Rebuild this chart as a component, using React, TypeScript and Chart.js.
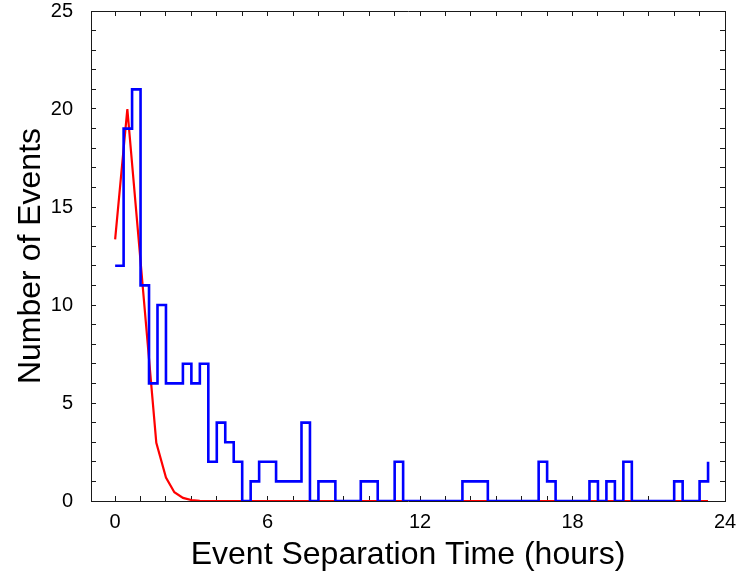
import React, { useEffect, useRef } from 'react';
import { Chart, registerables } from 'chart.js';

Chart.register(...registerables);

// Histogram of event separation times: 20-minute bins starting at 0 h
const BIN_WIDTH_HOURS = 1 / 3;
const EVENT_COUNTS = [
  12, 19, 21, 11, 6, 10, 6, 6, 7, 6, 7, 2, 4, 3, 2,
  0, 1, 2, 2, 1, 1, 1, 4,
  0, 1, 1, 0, 0, 0, 1, 1, 0, 0, 2,
  0, 0, 0, 0, 0, 0, 0,
  1, 1, 1,
  0, 0, 0, 0, 0, 0,
  2, 1,
  0, 0, 0, 0,
  1, 0, 1, 0, 2,
  0, 0, 0, 0, 0,
  1, 0, 0, 1, 2,
];

// Fitted curve (red)
const FIT_X = [0, 0.48, 1.62, 2.0, 2.33, 2.67, 3.0, 3.33, 3.67, 23.33];
const FIT_Y = [13.35, 20.0, 2.97, 1.2, 0.45, 0.16, 0.05, 0.01, 0, 0];

// Axes
const X_MIN = -0.95;
const X_MAX = 24;
const X_TICKS = [0, 1, 2, 3, 4, 5, 6, 7, 8, 9, 10, 11, 12, 13, 14, 15, 16, 17, 18, 19, 20, 21, 22, 23, 24];
const X_LABELED = [0, 6, 12, 18, 24];
const Y_MIN = 0;
const Y_MAX = 25;
const Y_TICKS = [0, 1, 2, 3, 4, 5, 6, 7, 8, 9, 10, 11, 12, 13, 14, 15, 16, 17, 18, 19, 20, 21, 22, 23, 24, 25];
const Y_LABELED = [0, 5, 10, 15, 20, 25];

const X_TITLE = 'Event Separation Time (hours)';
const Y_TITLE = 'Number of Events';

function clearPadding(s: any) {
  s.paddingTop = 0;
  s.paddingBottom = 0;
  s.paddingLeft = 0;
  s.paddingRight = 0;
}

export default function App() {
  const ref = useRef<HTMLCanvasElement | null>(null);

  useEffect(() => {
    const canvas = ref.current;
    if (!canvas) return;
    const family = "'Liberation Sans', Arial, Helvetica, sans-serif";
    const frame = '#1a1a1a';
    const grid = {
      drawOnChartArea: false,
      color: frame,
      lineWidth: 1,
      tickLength: -5,
      drawTicks: true,
    };
    const border = { display: true, color: frame, width: 1 };

    const chart = new Chart(canvas, {
      type: 'line',
      data: {
        datasets: [
          {
            label: 'Observed',
            data: EVENT_COUNTS.map((c, i) => ({ x: i * BIN_WIDTH_HOURS, y: c })),
            borderColor: '#0000ff',
            backgroundColor: '#0000ff',
            borderWidth: 2.6,
            stepped: 'before',
            pointRadius: 0,
            fill: false,
            xAxisID: 'x',
            yAxisID: 'y',
          },
          {
            label: 'Fit',
            data: FIT_X.map((x, i) => ({ x, y: FIT_Y[i] })),
            borderColor: '#ff0000',
            backgroundColor: '#ff0000',
            borderWidth: 2.2,
            tension: 0,
            pointRadius: 0,
            fill: false,
            xAxisID: 'x',
            yAxisID: 'y',
          },
        ],
      },
      options: {
        responsive: false,
        animation: false,
        devicePixelRatio: 1,
        layout: { padding: { left: 0, right: 11, top: 11, bottom: 0 } },
        plugins: {
          legend: { display: false },
          tooltip: { enabled: false },
        },
        scales: {
          x: {
            type: 'linear',
            position: 'bottom',
            min: X_MIN,
            max: X_MAX,
            afterBuildTicks: (s: any) => {
              s.ticks = X_TICKS.map((v) => ({ value: v }));
            },
            afterFit: (s: any) => {
              s.height = 75;
              clearPadding(s);
            },
            grid,
            border,
            ticks: {
              color: '#000',
              font: { family, size: 20 },
              padding: 14,
              autoSkip: false,
              maxRotation: 0,
              minRotation: 0,
              callback: (v: any) => (X_LABELED.includes(Number(v)) ? String(v) : ''),
            },
            title: {
              display: true,
              text: X_TITLE,
              color: '#000',
              font: { family, size: 32 },
              padding: { top: 0, bottom: 2 },
            },
          },
          x2: {
            type: 'linear',
            position: 'top',
            min: X_MIN,
            max: X_MAX,
            afterBuildTicks: (s: any) => {
              s.ticks = X_TICKS.map((v) => ({ value: v }));
            },
            afterFit: (s: any) => {
              s.height = 0;
              clearPadding(s);
            },
            grid,
            border,
            ticks: { display: false },
          },
          y: {
            type: 'linear',
            position: 'left',
            min: Y_MIN,
            max: Y_MAX,
            afterBuildTicks: (s: any) => {
              s.ticks = Y_TICKS.map((v) => ({ value: v }));
            },
            afterFit: (s: any) => {
              s.width = 91;
              clearPadding(s);
            },
            grid,
            border,
            ticks: {
              color: '#000',
              font: { family, size: 20 },
              padding: 23,
              autoSkip: false,
              callback: (v: any) => (Y_LABELED.includes(Number(v)) ? String(v) : ''),
            },
            title: {
              display: true,
              text: Y_TITLE,
              color: '#000',
              font: { family, size: 32 },
              padding: { top: 12, bottom: 0 },
            },
          },
          y2: {
            type: 'linear',
            position: 'right',
            min: Y_MIN,
            max: Y_MAX,
            afterBuildTicks: (s: any) => {
              s.ticks = Y_TICKS.map((v) => ({ value: v }));
            },
            afterFit: (s: any) => {
              s.width = 0;
              clearPadding(s);
            },
            grid,
            border,
            ticks: { display: false },
          },
        },
      } as any,
    });

    return () => {
      chart.destroy();
    };
  }, []);

  return (
    <div style={{ position: 'absolute', left: 0, top: 0, width: 736, height: 576, background: '#fff' }}>
      <canvas ref={ref} width={736} height={576} style={{ display: 'block', width: 736, height: 576 }} />
    </div>
  );
}
